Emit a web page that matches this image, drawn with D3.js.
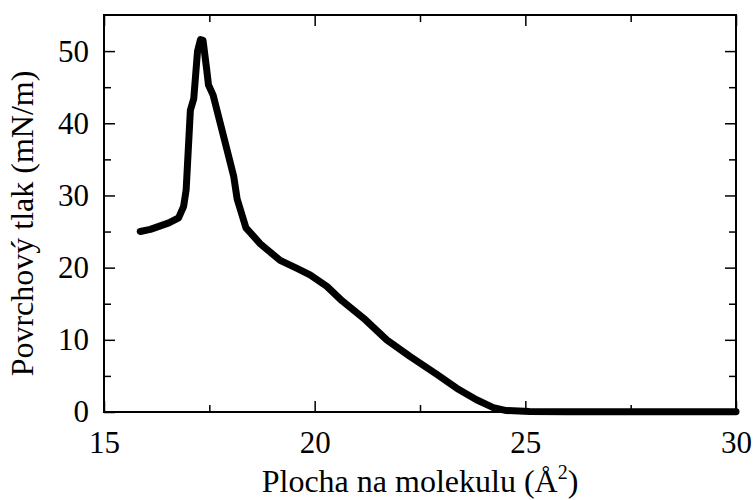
<!DOCTYPE html>
<html>
<head>
<meta charset="utf-8">
<script src="https://cdn.jsdelivr.net/npm/d3@7"></script>
<style>
  html, body { margin: 0; padding: 0; background: #fff; }
  svg { display: block; }
  text { font-family: "Liberation Serif", "Times New Roman", serif; fill: #000; }
</style>
</head>
<body>
<svg id="chart" width="756" height="500"></svg>
<script>
// ---- data ----
const areaValues = [15.86, 16.1, 16.54, 16.77, 16.89, 16.95, 17.05, 17.13, 17.22, 17.29, 17.35, 17.43, 17.48, 17.59, 17.76, 17.92, 18.08, 18.16, 18.37, 18.71, 19.18, 19.58, 19.89, 20.29, 20.65, 21.16, 21.71, 22.26, 22.9, 23.37, 23.84, 24.24, 24.55, 25.1, 26.0, 27.0, 28.0, 29.0, 30.0];
const pressureValues = [25.0, 25.3, 26.2, 26.9, 28.5, 30.8, 41.8, 43.4, 50.0, 51.6, 51.5, 47.8, 45.3, 43.9, 40.0, 36.3, 32.6, 29.5, 25.5, 23.3, 21.0, 19.9, 19.0, 17.4, 15.4, 13.0, 10.0, 7.7, 5.2, 3.3, 1.7, 0.6, 0.2, 0.08, 0.05, 0.04, 0.03, 0.03, 0.05];
const xTicks = [15, 20, 25, 30];
const xMinorTicks = [17.5, 22.5, 27.5];
const yTicks = [0, 10, 20, 30, 40, 50];
const yMinorTicks = [5, 15, 25, 35, 45];
const xTitle = "Plocha na molekulu (Å";
const xTitleSup = "2";
const yTitle = "Povrchový tlak (mN/m)";

// ---- layout ----
const FONT = '"Liberation Serif", "Times New Roman", serif';
const TICK_FS = 31;
const svg = d3.select("#chart");
const L = 104, R = 736, T = 15, B = 412;
const x = d3.scaleLinear().domain([15, 30]).range([L, R]);
const y = d3.scaleLinear().domain([0, 55]).range([B, T]);

const majorLen = 11, minorLen = 7;

function styleAxis(g) {
  g.attr("font-family", FONT).attr("font-size", TICK_FS);
  g.select(".domain").remove();
  g.selectAll(".tick line").attr("stroke", "#000").attr("stroke-width", 1.5);
  g.selectAll(".tick text").style("font-size", TICK_FS + "px").style("font-family", FONT);
}

// bottom
svg.append("g").attr("transform", `translate(0,${B})`)
  .call(d3.axisBottom(x).tickValues(xTicks).tickSize(-majorLen).tickPadding(19).tickFormat(d3.format("d")))
  .call(styleAxis);
svg.append("g").attr("transform", `translate(0,${B})`)
  .call(d3.axisBottom(x).tickValues(xMinorTicks).tickSize(-minorLen).tickFormat(""))
  .call(styleAxis);
// top
svg.append("g").attr("transform", `translate(0,${T})`)
  .call(d3.axisTop(x).tickValues(xTicks).tickSize(-majorLen).tickFormat(""))
  .call(styleAxis);
svg.append("g").attr("transform", `translate(0,${T})`)
  .call(d3.axisTop(x).tickValues(xMinorTicks).tickSize(-minorLen).tickFormat(""))
  .call(styleAxis);
// left
svg.append("g").attr("transform", `translate(${L},0)`)
  .call(d3.axisLeft(y).tickValues(yTicks).tickSize(-majorLen).tickPadding(15).tickFormat(d3.format("d")))
  .call(styleAxis);
svg.append("g").attr("transform", `translate(${L},0)`)
  .call(d3.axisLeft(y).tickValues(yMinorTicks).tickSize(-minorLen).tickFormat(""))
  .call(styleAxis);
// right
svg.append("g").attr("transform", `translate(${R},0)`)
  .call(d3.axisRight(y).tickValues(yTicks).tickSize(-majorLen).tickFormat(""))
  .call(styleAxis);
svg.append("g").attr("transform", `translate(${R},0)`)
  .call(d3.axisRight(y).tickValues(yMinorTicks).tickSize(-minorLen).tickFormat(""))
  .call(styleAxis);

// frame
svg.append("rect")
  .attr("x", L).attr("y", T).attr("width", R - L).attr("height", B - T)
  .attr("fill", "none").attr("stroke", "#000").attr("stroke-width", 2);

// curve
const pts = areaValues.map((a, i) => [a, pressureValues[i]]);
svg.append("path")
  .datum(pts)
  .attr("fill", "none")
  .attr("stroke", "#000")
  .attr("stroke-width", 7)
  .attr("stroke-linejoin", "round")
  .attr("stroke-linecap", "round")
  .attr("d", d3.line().x(d => x(d[0])).y(d => y(d[1])).curve(d3.curveLinear));

// x title
const xt = svg.append("text")
  .attr("x", (L + R) / 2).attr("y", 492)
  .attr("text-anchor", "middle")
  .attr("font-family", FONT)
  .style("font-size", "32px");
xt.append("tspan").text(xTitle);
xt.append("tspan").attr("dy", -13).style("font-size", "20px").text(xTitleSup);
xt.append("tspan").attr("dy", 13).text(")");

// y title
svg.append("text")
  .attr("transform", `translate(33,${(T + B) / 2 + 10}) rotate(-90)`)
  .attr("text-anchor", "middle")
  .attr("font-family", FONT)
  .style("font-size", "32px")
  .text(yTitle);
</script>
</body>
</html>
